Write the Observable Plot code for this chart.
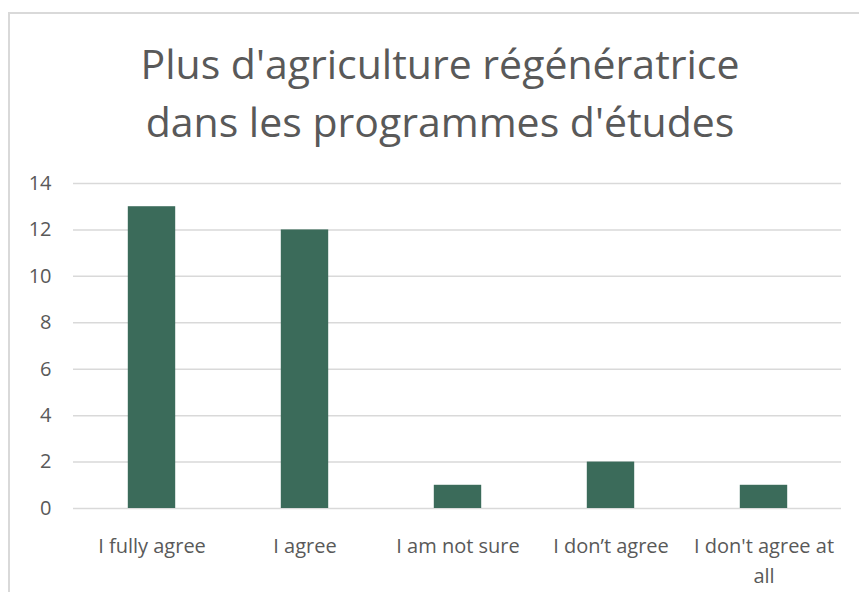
<!DOCTYPE html>
<html>
<head>
<meta charset="utf-8">
<script src="https://cdn.jsdelivr.net/npm/d3@7"></script>
<script src="https://cdn.jsdelivr.net/npm/@observablehq/plot@0.6"></script>
<style>
  html, body { margin: 0; padding: 0; background: #fff; overflow: hidden; width: 859px; height: 592px; }
  #frame { position: absolute; left: 8px; top: 12px; width: 870px; height: 600px; border: 2px solid #d9d9d9; box-sizing: border-box; }
  #title { position: absolute; left: 0; top: 34px; width: 880px; text-align: center; font-family: "Open Sans", sans-serif; font-size: 41px; line-height: 58px; color: #595959; white-space: nowrap; }
  #chart { position: absolute; left: 0; top: 0; }
</style>
</head>
<body>
<div id="frame"></div>
<div id="title">Plus d'agriculture régénératrice<br>dans les programmes d'études</div>
<div id="chart"></div>
<script>
const categories = ["I fully agree", "I agree", "I am not sure", "I don’t agree", "I don't agree at all"];
const counts = [13, 12, 1, 2, 1];
const tickLabels = ["I fully agree", "I agree", "I am not sure", "I don’t agree", "I don't agree at\nall"];
const yTicks = [0, 2, 4, 6, 8, 10, 12, 14];

const data = categories.map((c, i) => ({category: c, count: counts[i]}));
const labelOf = new Map(categories.map((c, i) => [c, tickLabels[i]]));

const chart = Plot.plot({
  width: 859,
  height: 592,
  marginLeft: 73,
  marginRight: 18,
  marginTop: 183,
  marginBottom: 84,
  style: {fontFamily: "'Open Sans', sans-serif", color: "#595959", background: "transparent", overflow: "visible"},
  x: {domain: categories, padding: 0, axis: null, label: null},
  y: {domain: [0, 14], axis: null, label: null},
  marks: [
    Plot.ruleY(yTicks, {stroke: "#d9d9d9", strokeWidth: 1.5}),
    Plot.barY(data, {x: "category", y: "count", fill: "#3b6b5a", insetLeft: 52.8, insetRight: 52.8}),
    Plot.axisY({ticks: yTicks, tickSize: 0, tickPadding: 22, fontSize: 20, fill: "#595959", label: null, tickFormat: d => String(d)}),
    Plot.axisX({tickSize: 0, tickPadding: 24, fontSize: 20, fill: "#595959", label: null, lineHeight: 1.475, tickFormat: d => labelOf.get(d)})
  ]
});
document.getElementById("chart").appendChild(chart);
</script>
</body>
</html>
